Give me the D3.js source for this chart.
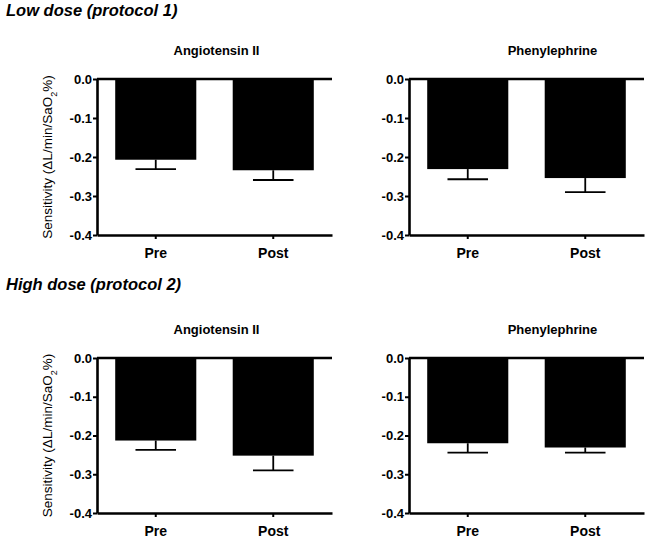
<!DOCTYPE html>
<meta charset="utf-8">
<style>
  html, body { margin:0; padding:0; background:#fff; overflow:hidden }
  text { font-family: "Liberation Sans", Arial, sans-serif; fill:#000 }
  .axis path, .axis line { stroke:#000 }
  .axis text { font-weight:bold; fill:#000 }
</style>
<svg id="chart" width="649" height="540"></svg>
<script src="https://cdn.jsdelivr.net/npm/d3@7"></script>
<script>

// data
var groups = ["Pre", "Post"];
var yTicks = [0, -0.1, -0.2, -0.3, -0.4];
var rowTitles = ["Low dose (protocol 1)", "High dose (protocol 2)"];
var drugTitles = ["Angiotensin II", "Phenylephrine"];

var lowAngMean = [-0.207, -0.234];
var lowAngErr  = [0.024, 0.025];
var lowPheMean = [-0.231, -0.254];
var lowPheErr  = [0.026, 0.036];
var highAngMean = [-0.213, -0.252];
var highAngErr  = [0.024, 0.038];
var highPheMean = [-0.220, -0.231];
var highPheErr  = [0.024, 0.013];

var svg = d3.select("#chart");

var plotW = 235;
var colX = [97, 409];
var rowY = [[79, 235], [358, 513]];

function drawPanel(row, col, means, errs) {
    var x0 = colX[col];
    var yTop = rowY[row][0], yBot = rowY[row][1];

    var x = d3.scaleBand().domain(groups)
              .range([x0, x0 + plotW])
              .paddingInner(0.31).paddingOuter(0.155);
    var y = d3.scaleLinear().domain([0, -0.4]).range([yTop, yBot]);

    var g = svg.append("g");

    var data = groups.map(function(k, i) { return { k: k, m: means[i], e: errs[i] }; });

    // error bars (drawn first, bars cover the top part)
    g.selectAll("line.err").data(data).enter().append("line")
        .attr("class", "err")
        .attr("x1", function(d) { return x(d.k) + x.bandwidth() / 2; })
        .attr("x2", function(d) { return x(d.k) + x.bandwidth() / 2; })
        .attr("y1", function(d) { return y(d.m); })
        .attr("y2", function(d) { return y(d.m - d.e); })
        .attr("stroke", "#000").attr("stroke-width", 1.8);

    g.selectAll("line.cap").data(data).enter().append("line")
        .attr("class", "cap")
        .attr("x1", function(d) { return x(d.k) + x.bandwidth() / 4; })
        .attr("x2", function(d) { return x(d.k) + x.bandwidth() * 3 / 4; })
        .attr("y1", function(d) { return y(d.m - d.e); })
        .attr("y2", function(d) { return y(d.m - d.e); })
        .attr("stroke", "#000").attr("stroke-width", 1.8);

    g.selectAll("rect").data(data).enter().append("rect")
        .attr("x", function(d) { return x(d.k); })
        .attr("y", y(0))
        .attr("width", x.bandwidth())
        .attr("height", function(d) { return y(d.m) - y(0); })
        .attr("fill", "#000");

    // y axis
    var yAx = g.append("g").attr("class", "axis")
        .attr("transform", "translate(" + x0 + ",0)")
        .call(d3.axisLeft(y).tickValues(yTicks).tickSize(4).tickSizeOuter(0).tickPadding(1)
                .tickFormat(function(d) { return d.toFixed(1); }));
    yAx.select(".domain").attr("stroke-width", 2.6);
    yAx.selectAll(".tick line").attr("stroke-width", 2);
    yAx.selectAll("text").style("font-size", "13px");

    // x axis at bottom
    var xAx = g.append("g").attr("class", "axis")
        .attr("transform", "translate(0," + yBot + ")")
        .call(d3.axisBottom(x).tickSize(4).tickSizeOuter(0).tickPadding(9));
    xAx.select(".domain").attr("stroke-width", 2.6);
    xAx.selectAll(".tick line").attr("stroke-width", 2);
    xAx.selectAll("text").style("font-size", "14px");

    // zero line
    g.append("line")
        .attr("x1", x0).attr("x2", x0 + plotW)
        .attr("y1", y(0)).attr("y2", y(0))
        .attr("stroke", "#000").attr("stroke-width", 2.6);

    // panel title
    var tx = col === 0 ? x0 + plotW / 2 + 2 : x0 + plotW / 2 + 26;
    g.append("text")
        .attr("x", tx).attr("y", yTop - 24)
        .attr("text-anchor", "middle")
        .style("font-size", "13px").style("font-weight", "bold")
        .text(drugTitles[col]);

    // y label on left panels only
    if (col === 0) {
        var lab = g.append("text")
            .attr("transform", "translate(52," + ((yTop + yBot) / 2) + ") rotate(-90)")
            .attr("text-anchor", "middle")
            .style("font-size", "13.5px");
        lab.append("tspan").text("Sensitivity (\u0394L/min/SaO");
        lab.append("tspan").attr("baseline-shift", "sub").style("font-size", "9px").text("2");
        lab.append("tspan").text("%)");
    }
}

svg.append("text").attr("x", 6).attr("y", 16)
    .style("font-size", "16.5px").style("font-weight", "bold").style("font-style", "italic")
    .text(rowTitles[0]);
svg.append("text").attr("x", 6).attr("y", 290)
    .style("font-size", "16.5px").style("font-weight", "bold").style("font-style", "italic")
    .text(rowTitles[1]);

drawPanel(0, 0, lowAngMean, lowAngErr);
drawPanel(0, 1, lowPheMean, lowPheErr);
drawPanel(1, 0, highAngMean, highAngErr);
drawPanel(1, 1, highPheMean, highPheErr);

</script>
